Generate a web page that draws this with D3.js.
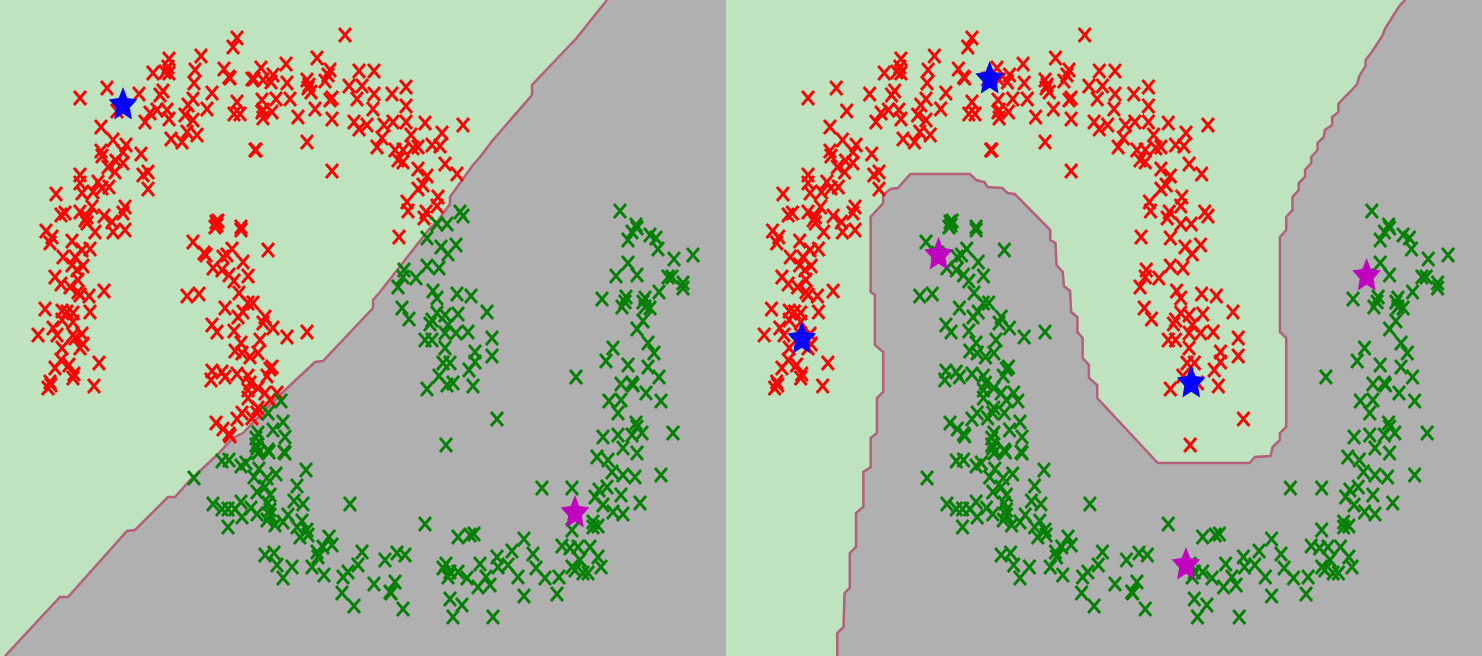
<!DOCTYPE html>
<html>
<head>
<meta charset="utf-8">
<style>
  html, body { margin: 0; padding: 0; background: #fff; overflow: hidden; }
  svg { display: block; filter: blur(0.35px); }
</style>
</head>
<body>
<div id="chart"></div>
<script src="https://cdn.jsdelivr.net/npm/d3@7"></script>
<script>
(function () {
  'use strict';

  // outer moon, upper arc [x, y]: red in both panels
  var redPoints = [
    [237,38],[233,47],[201,56],[169,59],[153,73],[165,72],[169,73],[168,67],[195,70],[194,83],[224,69],[229,77],[230,78],[254,79],
    [107,88],[80,98],[139,94],[163,91],[160,95],[212,93],[193,99],[188,105],[207,109],[237,102],[234,114],[240,114],[117,111],
    [150,113],[157,110],[167,110],[145,122],[169,119],[185,115],[193,120],[187,132],[197,135],[171,139],[182,142],[101,127],[113,140],
    [126,145],[123,152],[101,151],[102,156],[141,154],[108,167],[116,161],[123,163],[115,172],[143,175],[148,172],[148,189],[80,175],
    [80,183],[56,194],[98,182],[109,187],[82,193],[93,192],[102,188],[92,207],[80,212],[61,215],[65,213],[87,217],[104,216],[125,207],
    [123,213],[112,222],[87,223],[255,150],
    [345,35],[317,58],[286,64],[261,68],[330,70],[328,75],[359,71],[374,71],[273,75],[252,79],[263,80],[271,82],[287,83],[307,80],
    [309,85],[308,88],[325,81],[349,86],[362,86],[406,87],[311,92],[374,94],[392,94],[357,99],[332,98],[330,100],[262,100],[276,99],
    [290,99],[406,106],[373,109],[315,109],[263,110],[272,112],[262,112],[263,118],[298,117],[332,119],[406,122],[354,122],[359,129],
    [367,125],[384,125],[393,122],[425,123],[463,125],[411,135],[442,133],[382,138],[307,142],[377,147],[256,150],[432,145],[440,146],
    [418,147],[413,148],[395,150],[403,150],[398,160],[403,162],[445,164],[418,169],[427,176],[457,174],[332,171],[423,185],[418,189],
    [438,197],[407,202],[437,206],[408,211],[426,212],[424,218],[399,237],
    [46,231],[52,237],[50,243],[95,232],[125,230],[113,232],[85,220],[72,241],[90,249],[63,257],[82,250],[75,257],[72,265],[83,266],
    [77,270],[55,277],[61,284],[70,287],[78,280],[78,292],[89,296],[104,291],[80,295],[45,309],[62,311],[67,312],[73,313],[90,312],
    [73,322],[62,320],[53,328],[38,335],[57,335],[73,335],[82,334],[75,338],[83,344],[80,348],[62,348],[61,360],[99,363],[69,365],
    [55,368],[74,374],[73,378],[94,386],[50,382],[48,388],[51,385]
  ];

  // inner moon, upper part: red on the left, green on the right
  var innerPoints = [
    [216,222],[218,221],[241,227],[241,230],[215,227],[217,225],[193,242],[268,250],[232,249],[204,253],[206,255],[223,257],[227,255],
    [243,262],[213,268],[222,270],[229,275],[248,276],[234,281],[239,293],[187,296],[199,294],[225,308],[248,303],[253,303],[243,312],
    [238,317],[265,317],[263,323],[212,325],[217,332],[234,331],[273,328],[287,337],[307,332],[260,340],[241,343],[235,351],[242,353],
    [258,353],[250,357],[272,367],[270,369],[212,371],[222,372],[225,377],[211,380],[237,374],[248,376],[267,376],[250,383],[258,388],
    [248,390],[265,393],[277,393],[248,398],[258,408],[270,400],[242,413],[237,419],[252,418],[257,413],[216,423],[223,429],[229,434],
    [230,436]
  ];

  // outer moon, tail: green on the left, red on the right
  var tailPoints = [
    [460,212],[463,216],[437,224],[447,224],[427,238],[456,245],[441,247],[448,254],[427,266],[439,268],[404,270],[403,277],[416,278],
    [398,287],[433,291],[437,298],[457,294],[471,296],[402,308],[409,319],[487,312],[437,313],[432,320],[430,324],[445,315],[458,314],
    [448,325],[456,333],[468,332],[425,340],[432,340],[445,333],[445,348],[492,338],[492,356],[475,352],[475,362],[443,363],[450,363],
    [469,370],[439,376],[447,385],[453,383],[473,386],[427,389],[497,419],[446,445]
  ];

  // inner moon, lower arc: green in both panels
  var greenPoints = [
    [281,401],[268,413],[283,422],[273,430],[285,437],[258,433],[256,438],[257,448],[268,450],[284,452],
    [256,445],[258,453],[269,452],[285,453],[222,461],[229,460],[241,466],[246,463],[259,469],[306,470],[194,478],[276,474],[254,477],
    [267,478],[297,486],[257,492],[265,487],[270,495],[294,501],[303,504],[350,504],[213,504],[241,502],[222,509],[228,509],[235,509],
    [242,517],[251,508],[257,514],[268,503],[270,510],[270,515],[267,520],[275,525],[288,515],[283,522],[228,527],[302,521],[297,527],
    [307,530],[300,537],[308,535],[329,537],[332,545],[317,552],[323,547],[318,557],[265,555],[274,553],[362,552],[277,565],[292,567],
    [312,567],[324,575],[283,578],[385,560],[397,553],[405,555],[358,565],[348,572],[343,577],[374,584],[395,582],[390,592],[391,593],
    [342,593],[354,606],[403,609],
    [425,524],[458,537],[470,535],[474,534],[542,488],[572,488],[524,539],[512,551],[562,546],[570,548],[497,557],[533,554],[446,564],
    [480,564],[443,568],[450,572],[458,572],[448,577],[467,578],[478,587],[490,585],[486,577],[498,567],[508,565],[536,568],[518,577],
    [545,578],[559,577],[557,594],[524,596],[450,599],[462,605],[453,617],[493,617],[572,567],[580,560],[575,570],[583,573],[588,573],
    [601,567],[598,557],[590,547],[578,547],[597,457],[608,460],[612,472],[623,448],[623,475],[637,453],[635,477],[599,490],[607,487],
    [595,497],[603,505],[621,495],[613,512],[623,514],[593,527],[598,526],[593,522],[572,530],[640,503],
    [620,211],[636,225],[637,228],[632,232],[628,240],[650,235],[656,238],[658,249],[693,255],[674,259],[628,263],[616,276],[637,275],
    [668,277],[672,277],[683,283],[683,288],[602,299],[659,292],[626,297],[622,307],[625,302],[645,298],[643,302],[645,307],[650,308],
    [643,321],[637,329],[648,343],[654,353],[613,348],[606,361],[628,365],[648,367],[659,377],[576,377],[621,384],[632,383],[633,385],
    [646,393],[661,401],[609,401],[621,400],[618,413],[636,423],[637,427],[603,437],[618,435],[632,435],[642,433],[673,433],[661,475]
  ];

  var leftBlueStars = [[123,105]];
  var leftPurpleStars = [[575,513]];
  var rightBlueStars = [[74,339],[254,79],[447,383]];
  var rightPurpleStars = [[205,255],[442,565],[615,276]];

  // decision boundaries, green is on the upper left of each
  var leftBoundary = [
    [5,656],[60,597],[68,597],[127,531],[135,530],[168,497],[175,497],[190,480],[217,455],[233,438],[243,433],[283,392],[315,362],
    [323,361],[373,308],[373,300],[380,292],[430,228],[437,222],[450,204],[450,197],[473,165],[480,157],[493,140],[532,95],[532,85],
    [570,45],[575,40],[607,0]
  ];
  var rightBoundary = [
    [108,656],[108,633],[114,627],[115,593],[120,588],[120,553],[126,547],[126,513],[133,507],[133,472],[140,467],[140,438],[146,433],
    [146,398],[152,392],[152,352],[144,345],[144,295],[140,292],[140,217],[152,203],[152,195],[159,189],[166,188],[178,174],[235,174],
    [241,180],[249,182],[252,187],[266,188],[271,193],[278,194],[312,230],[312,240],[317,243],[318,265],[324,272],[325,286],[331,291],
    [332,312],[338,317],[338,332],[343,338],[343,358],[349,365],[349,378],[357,385],[357,398],[415,463],[503,463],[508,457],[523,456],
    [525,447],[532,440],[532,433],[538,427],[538,338],[532,332],[532,237],[538,230],[538,217],[544,210],[544,197],[550,190],[550,183],
    [556,177],[556,170],[562,163],[562,157],[568,150],[568,143],[574,137],[575,130],[582,125],[582,117],[588,112],[588,104],[594,97],
    [600,91],[606,84],[608,76],[614,66],[614,60],[620,52],[625,44],[630,36],[633,28],[638,20],[642,13],[647,5],[652,0]
  ];

  var WIDTH = 1482;
  var HEIGHT = 656;
  var DIVIDER = 726;
  var STAR_INNER = 0.48;
  var COLORS = {
    green: '#bfe3bf',
    gray: '#b0b0b0',
    edge: '#b4607c',
    red: '#ff0000',
    dark: '#008000',
    blue: '#0000ff',
    purple: '#bf00bf'
  };
  var CROSS = 'M-6,-7L6,7M-6,7L6,-7';

  var yScale = d3.scaleLinear().domain([0, 656]).range([0, HEIGHT]);
  var xLeft = d3.scaleLinear().domain([0, 726]).range([0, DIVIDER]);
  var xRight = d3.scaleLinear().domain([0, 726]).range([724.5, 1482.5]);

  // d3.symbolStar is too thin for these markers
  var fatStar = {
    draw: function (context, size) {
      var r = Math.sqrt(size);
      for (var i = 0; i < 10; i++) {
        var radius = i % 2 ? r * STAR_INNER : r;
        var angle = i * Math.PI / 5;
        var px = radius * Math.sin(angle);
        var py = -radius * Math.cos(angle);
        if (i === 0) {
          context.moveTo(px, py);
        } else {
          context.lineTo(px, py);
        }
      }
      context.closePath();
    }
  };

  var svg = d3.select('#chart').append('svg')
    .attr('width', WIDTH)
    .attr('height', HEIGHT);

  drawPanel({
    name: 'left',
    left: 0,
    width: DIVIDER,
    xScale: xLeft,
    boundary: leftBoundary,
    reds: redPoints.concat(innerPoints),
    greens: greenPoints.concat(tailPoints),
    blueStars: leftBlueStars,
    purpleStars: leftPurpleStars
  });
  drawPanel({
    name: 'right',
    left: DIVIDER,
    width: WIDTH - DIVIDER,
    xScale: xRight,
    boundary: rightBoundary,
    reds: redPoints.concat(tailPoints),
    greens: greenPoints.concat(innerPoints),
    blueStars: rightBlueStars,
    purpleStars: rightPurpleStars
  });

  function drawPanel(opts) {
    var xScale = opts.xScale;

    svg.append('clipPath')
      .attr('id', 'clip-' + opts.name)
      .append('rect')
      .attr('x', opts.left)
      .attr('y', 0)
      .attr('width', opts.width)
      .attr('height', HEIGHT);

    var panel = svg.append('g')
      .attr('class', 'panel-' + opts.name)
      .attr('clip-path', 'url(#clip-' + opts.name + ')');

    panel.append('rect')
      .attr('x', opts.left)
      .attr('y', 0)
      .attr('width', opts.width)
      .attr('height', HEIGHT)
      .attr('fill', COLORS.gray);

    var line = d3.line()
      .x(function (d) { return xScale(d[0]); })
      .y(function (d) { return yScale(d[1]); });

    // close over the top left corner of the panel
    var start = xScale.invert(opts.left);
    panel.append('path')
      .attr('d', line(opts.boundary.concat([[start, 0], [start, 656]])) + 'Z')
      .attr('fill', COLORS.green);

    panel.append('path')
      .attr('d', line(opts.boundary))
      .attr('fill', 'none')
      .attr('stroke', COLORS.edge)
      .attr('stroke-width', 2.5);

    drawCrosses(panel, opts.reds, xScale, COLORS.red);
    drawCrosses(panel, opts.greens, xScale, COLORS.dark);
    drawStars(panel, opts.blueStars, xScale, COLORS.blue);
    drawStars(panel, opts.purpleStars, xScale, COLORS.purple);
  }

  function drawCrosses(panel, points, xScale, color) {
    panel.append('g')
      .selectAll('path')
      .data(points)
      .enter()
      .append('path')
      .attr('d', CROSS)
      .attr('transform', function (d) {
        return 'translate(' + xScale(d[0]) + ',' + yScale(d[1]) + ')';
      })
      .attr('fill', 'none')
      .attr('stroke', color)
      .attr('stroke-width', 2.8);
  }

  function drawStars(panel, points, xScale, color) {
    var star = d3.symbol().type(fatStar).size(225);
    panel.append('g')
      .selectAll('path')
      .data(points)
      .enter()
      .append('path')
      .attr('d', star)
      .attr('transform', function (d) {
        return 'translate(' + xScale(d[0]) + ',' + yScale(d[1]) + ')scale(1,1.2)';
      })
      .attr('fill', color);
  }
})();
</script>
</body>
</html>
